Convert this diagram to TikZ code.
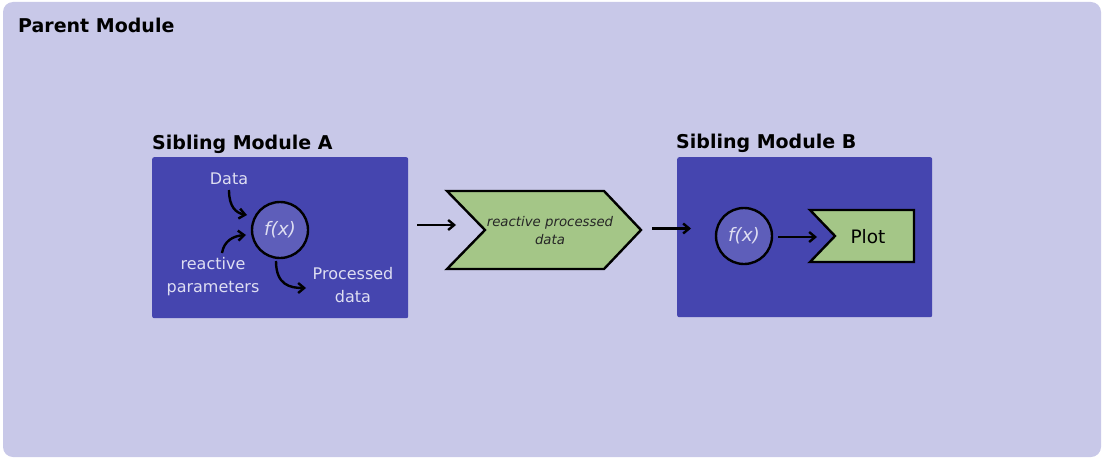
\documentclass[tikz,border=0pt]{standalone}
\usepackage{fontspec}
\setmainfont{DejaVu Sans}
\usetikzlibrary{arrows.meta}

\definecolor{parentbg}{RGB}{200,200,232}
\definecolor{modbg}{RGB}{69,69,175}
\definecolor{fnbg}{RGB}{94,94,186}
\definecolor{datagreen}{RGB}{164,198,135}
\definecolor{lighttext}{RGB}{222,222,242}

\begin{document}
\begin{tikzpicture}[x=1pt,y=-1pt,
  title/.style={anchor=base west, inner sep=0pt, font=\bfseries\fontsize{19}{22}\selectfont},
  modbox/.style={fill=modbg, rounded corners=2pt, anchor=north west, inner sep=0pt},
  fn/.style={circle, draw=black, line width=2.4pt, fill=fnbg, minimum size=56pt, inner sep=0pt,
    text=lighttext, font=\itshape\fontsize{18.5}{22}\selectfont},
  lbl/.style={align=center, inner sep=0pt, text=lighttext, font=\fontsize{16}{23.5}\selectfont},
  flow/.style={line width=2.4pt, -{Straight Barb[length=6pt,width=10pt,line width=2.4pt]}},
  greenshape/.style={draw=black, line width=2.4pt, fill=datagreen, line join=miter}
]
\useasboundingbox (0,0) rectangle (1102,460);

% parent module
\fill[parentbg, rounded corners=10pt] (3,2) rectangle (1101,457);
\node[title] (parent) at (18,33) {Parent Module};

% sibling module A
\node[title] (titleA) at (152,149) {Sibling Module A};
\node[modbox, minimum width=256pt, minimum height=161pt] (modA) at (152,157) {};
\node[fn] (fA) at (280,230) {f(x)};
\node[lbl] (data) at (229,179) {Data};
\node[lbl] (params) at (213,276.5) {reactive\\parameters};
\node[lbl] (processed) at (353,285) {Processed\\data};
\coordinate (dataS) at (229,190);
\coordinate (dataE) at (247,215);
\coordinate (parS) at (222,253);
\coordinate (parE) at (246,235);
\coordinate (outS) at (276,261);
\coordinate (outE) at (306,288);
\draw[flow] (dataS) .. controls (229,207) and (236,213) .. (dataE);
\draw[flow] (parS) .. controls (224,241) and (233,236) .. (parE);
\draw[flow] (outS) .. controls (276,285) and (290,288) .. (outE);

% reactive processed data
\draw[greenshape] (447,191) -- (604,191) -- (641,230) -- (604,269) -- (447,269) -- (485,230) -- cycle;
\node[align=center, inner sep=0pt, font=\itshape\fontsize{13.3}{18}\selectfont, text=black!85]
  (chev) at (550,231) {reactive processed\\data};

% sibling module B
\node[title] (titleB) at (676,148) {Sibling Module B};
\node[modbox, minimum width=255pt, minimum height=160pt] (modB) at (677,157) {};
\node[fn] (fB) at (744,236) {f(x)};
\draw[greenshape] (810,210) -- (914,210) -- (914,262) -- (810,262) -- (835,236) -- cycle;
\node[inner sep=0pt, font=\fontsize{18.5}{22}\selectfont] (plot) at (868,237) {Plot};

% connectors between modules
\coordinate (a1) at (417,225);
\coordinate (a2) at (456,225);
\coordinate (b1) at (652,228.5);
\coordinate (b2) at (691,228.5);
\coordinate (c1) at (778,237);
\coordinate (c2) at (817,237);
\draw[flow] (a1) -- (a2);
\draw[flow] (b1) -- (b2);
\draw[flow] (c1) -- (c2);
\end{tikzpicture}
\end{document}
